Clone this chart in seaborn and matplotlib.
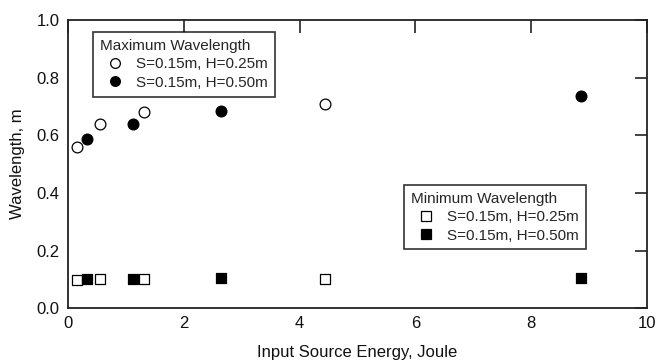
import matplotlib
matplotlib.use("Agg")
import matplotlib.pyplot as plt
import seaborn as sns
import pandas as pd
from matplotlib.lines import Line2D

sns.set_theme(style="white")
plt.rcParams['font.family'] = ['Liberation Sans', 'DejaVu Sans']

# Data
energy_h025 = [0.15, 0.56, 1.32, 4.44]
energy_h050 = [0.33, 1.12, 2.64, 8.85]
max_h025 = [0.561, 0.639, 0.680, 0.708]
max_h050 = [0.587, 0.640, 0.685, 0.738]
min_h025 = [0.098, 0.100, 0.101, 0.101]
min_h050 = [0.101, 0.102, 0.104, 0.104]

lab025 = "S=0.15m, H=0.25m"
lab050 = "S=0.15m, H=0.50m"

fig = plt.figure(figsize=(6.57, 3.6), dpi=100)
ax = fig.add_axes([0.1035, 0.144, 0.8815, 0.8])

ms = 60
sns.scatterplot(x=energy_h025, y=max_h025, ax=ax, marker='o', s=ms,
                facecolor='white', edgecolor='black', linewidth=0.9, zorder=3)
sns.scatterplot(x=energy_h050, y=max_h050, ax=ax, marker='o', s=ms,
                color='black', edgecolor='black', linewidth=0.9, zorder=3)
sns.scatterplot(x=energy_h025, y=min_h025, ax=ax, marker='s', s=ms,
                facecolor='white', edgecolor='black', linewidth=0.9, zorder=3)
sns.scatterplot(x=energy_h050, y=min_h050, ax=ax, marker='s', s=ms,
                color='black', edgecolor='black', linewidth=0.9, zorder=3)

ax.set_xlim(0, 10)
ax.set_ylim(0, 1.0)
ax.set_xticks([0, 2, 4, 6, 8, 10])
ax.set_yticks([0.0, 0.2, 0.4, 0.6, 0.8, 1.0])
ax.set_yticklabels(["0.0", "0.2", "0.4", "0.6", "0.8", "1.0"])
ax.tick_params(direction='in', length=9, width=1.2, color='#222222',
               top=True, right=True, labelsize=12, pad=6, labelcolor='#111111')
for sp in ax.spines.values():
    sp.set_color('#222222')
    sp.set_linewidth(1.3)
ax.set_xlabel("Input Source Energy, Joule", fontsize=12, color='#111111', labelpad=10)
ax.set_ylabel("Wavelength, m", fontsize=12, color='#111111', labelpad=8)

def mk(marker, fc):
    return Line2D([], [], linestyle='none', marker=marker, markersize=7,
                  markerfacecolor=fc, markeredgecolor='black', markeredgewidth=0.9)

common = dict(fontsize=11, title_fontsize=11, frameon=True, fancybox=False,
              edgecolor='black', borderpad=0.45, handletextpad=0.4,
              labelspacing=0.28, handlelength=2.0, borderaxespad=0)

leg1 = ax.legend([mk('o', 'white'), mk('o', 'black')], [lab025, lab050],
                 title="Maximum Wavelength", loc='upper left',
                 bbox_to_anchor=(0.043, 0.958), **common)
leg1.get_frame().set_linewidth(1.2)
leg1._legend_box.align = "left"
ax.add_artist(leg1)

leg2 = ax.legend([mk('s', 'white'), mk('s', 'black')], [lab025, lab050],
                 title="Minimum Wavelength", loc='upper left',
                 bbox_to_anchor=(0.58, 0.427), **common)
leg2.get_frame().set_linewidth(1.2)
leg2._legend_box.align = "left"

fig.savefig("out.png", dpi=100)
